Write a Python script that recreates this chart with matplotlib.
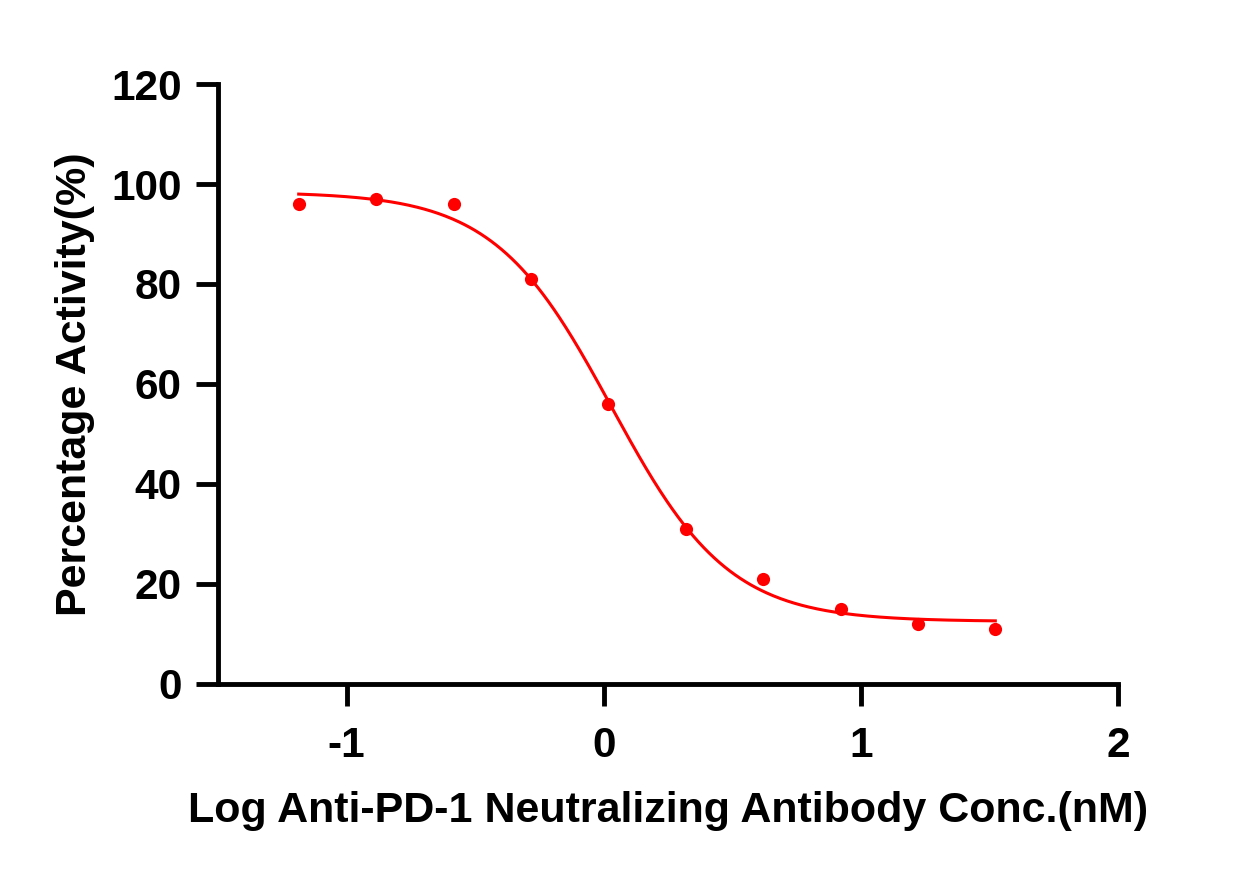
import numpy as np
import matplotlib
matplotlib.use("Agg")
import matplotlib.pyplot as plt

# Data (log nM concentration, % activity)
log_conc = [-1.186, -0.885, -0.584, -0.283, 0.018, 0.319, 0.620, 0.921, 1.222, 1.523]
activity = [96, 97, 96, 81, 56, 31, 21, 15, 12, 11]

# 4-parameter logistic fit parameters
fit_top = 98.4
fit_bottom = 12.5
fit_logic50 = 0.03
fit_hill = 1.9

x_ticks = [-1, 0, 1, 2]
y_ticks = [0, 20, 40, 60, 80, 100, 120]

plt.rcParams['font.family'] = ['Liberation Sans', 'DejaVu Sans']
plt.rcParams['font.weight'] = 'bold'

fig = plt.figure(figsize=(12.57, 8.76), dpi=100)
ax = fig.add_axes([0.1734, 0.2192, 0.8894 - 0.1734, 0.9041 - 0.2192])

xs = np.linspace(min(log_conc), max(log_conc), 400)
ys = fit_bottom + (fit_top - fit_bottom) / (1 + 10 ** ((xs - fit_logic50) * fit_hill))
ax.plot(xs, ys, color='#ff0000', lw=2.2, zorder=2)
ax.plot(log_conc, activity, 'o', color='#ff0000', ms=9.5, mec='none', zorder=3)

ax.set_xlim(-1.5, 2)
ax.set_ylim(0, 120)
ax.set_xticks(x_ticks)
ax.set_yticks(y_ticks)
ax.set_xticklabels([str(t) for t in x_ticks])
ax.set_yticklabels([str(t) for t in y_ticks])

for s in ['top', 'right']:
    ax.spines[s].set_visible(False)
for s in ['left', 'bottom']:
    ax.spines[s].set_linewidth(3.5)
    ax.spines[s].set_capstyle('projecting')

ax.tick_params(axis='both', direction='out', length=16, width=3.5, labelsize=30.5)
ax.tick_params(axis='x', pad=14)
ax.tick_params(axis='y', pad=10)
for lbl in ax.get_xticklabels() + ax.get_yticklabels():
    lbl.set_fontweight('bold')

ax.set_xlabel('Log Anti-PD-1 Neutralizing Antibody Conc.(nM)', fontsize=31, fontweight='bold', labelpad=18)
ax.set_ylabel('Percentage Activity(%)', fontsize=31, fontweight='bold', labelpad=12)

fig.savefig('out.png', dpi=100)
